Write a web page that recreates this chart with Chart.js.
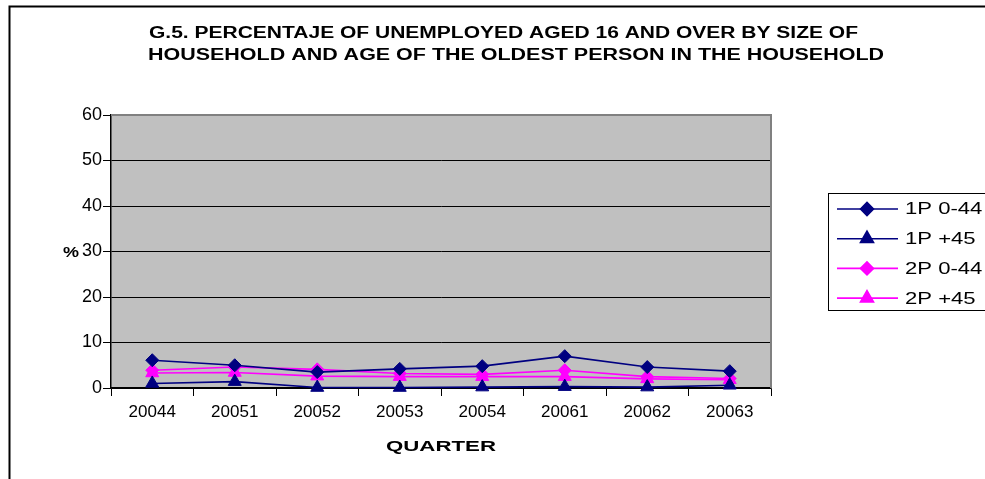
<!DOCTYPE html>
<html>
<head>
<meta charset="utf-8">
<script src="https://cdn.jsdelivr.net/npm/chart.js@4.4.1/dist/chart.umd.min.js"></script>
<style>
	html, body { margin: 0; padding: 0; background: #fff; }
	#wrap { width: 985px; height: 479px; position: relative; }
</style>
</head>
<body>
<div id="wrap"><canvas id="chart"></canvas></div>
<script>
	'use strict';

	const quarters = ['20044', '20051', '20052', '20053', '20054', '20061', '20062', '20063'];
	const p1Young = [6.1, 5.0, 3.5, 4.2, 4.8, 7.0, 4.6, 3.7];
	const p1Old = [1.0, 1.4, 0.1, 0.1, 0.2, 0.3, 0.2, 0.6];
	const p2Young = [3.9, 4.6, 4.1, 3.2, 3.0, 3.9, 2.5, 2.1];
	const p2Old = [3.3, 3.4, 2.6, 2.5, 2.5, 2.5, 2.0, 1.8];
	const yTicks = [0, 10, 20, 30, 40, 50, 60];

	const titleLines = [
		'G.5. PERCENTAJE OF UNEMPLOYED AGED 16 AND OVER BY SIZE OF',
		'HOUSEHOLD AND AGE OF THE OLDEST PERSON IN THE HOUSEHOLD',
	];
	const xTitle = 'QUARTER';
	const yTitle = '%';

	const NAVY = '#000080';
	const PINK = '#ff00ff';
	const SANS = '"Liberation Sans", Arial, sans-serif';

	function series(label, data, color, style) {
		return {
			label,
			data,
			borderColor: color,
			backgroundColor: color,
			borderWidth: 1.6,
			pointStyle: style,
			pointRadius: style === 'rectRot' ? 6.5 : 7.5,
			pointBorderWidth: 1,
			tension: 0,
			clip: false,
		};
	}

	// the old chart's lettering is stretched sideways, so fit text to a width
	function textAt(ctx, text, x, y, opts) {
		const w = ctx.measureText(text).width;
		const sx = opts.width ? opts.width / w : (opts.scale || 1);
		ctx.save();
		ctx.translate(x, y);
		ctx.scale(sx, 1);
		ctx.fillText(text, 0, 0);
		ctx.restore();
	}

	const decor = {
		id: 'decor',
		beforeDraw(chart) {
			const { ctx, chartArea: a } = chart;
			ctx.save();
			ctx.fillStyle = '#c0c0c0';
			ctx.fillRect(a.left, a.top, a.right - a.left, a.bottom - a.top);
			ctx.restore();
		},
		beforeDatasetsDraw(chart) {
			const { ctx, chartArea: a } = chart;
			ctx.save();
			ctx.strokeStyle = '#808080';
			ctx.lineWidth = 2;
			ctx.beginPath();
			ctx.moveTo(a.left, a.top);
			ctx.lineTo(a.right, a.top);
			ctx.lineTo(a.right, a.bottom);
			ctx.stroke();
			ctx.restore();
		},
		afterDraw(chart) {
			const { ctx, chartArea: a } = chart;
			ctx.save();
			// outer frame, only left and top edges show
			ctx.strokeStyle = '#000';
			ctx.lineWidth = 2;
			ctx.beginPath();
			ctx.moveTo(9.5, 479);
			ctx.lineTo(9.5, 6.5);
			ctx.lineTo(985, 6.5);
			ctx.stroke();

			ctx.fillStyle = '#000';
			ctx.textAlign = 'center';
			ctx.textBaseline = 'middle';
			ctx.font = 'bold 16px ' + SANS;
			textAt(ctx, titleLines[0], 503.5, 34, { width: 709 });
			textAt(ctx, titleLines[1], 516, 56, { width: 736 });

			ctx.font = 'bold 15px ' + SANS;
			textAt(ctx, xTitle, (a.left + a.right) / 2, 447, { width: 110 });
			textAt(ctx, yTitle, 71, 253, { scale: 1.2 });

			// legend box
			ctx.strokeStyle = '#000';
			ctx.lineWidth = 1;
			ctx.strokeRect(828.5, 193.5, 170, 117);
			ctx.font = '16px ' + SANS;
			ctx.textAlign = 'left';
			const draw = Chart.helpers && Chart.helpers.drawPoint;
			chart.data.datasets.forEach((ds, i) => {
				const y = 209 + i * 29.7;
				ctx.strokeStyle = ds.borderColor;
				ctx.lineWidth = 1.6;
				ctx.beginPath();
				ctx.moveTo(837, y);
				ctx.lineTo(898, y);
				ctx.stroke();
				ctx.fillStyle = ds.backgroundColor;
				if (draw) {
					draw(ctx, { pointStyle: ds.pointStyle, radius: ds.pointRadius, borderWidth: 1, rotation: 0 }, 867, y);
					ctx.fill();
				}
				ctx.fillStyle = '#000';
				textAt(ctx, ds.label, 905, y + 1, { scale: 1.38 });
			});
			ctx.restore();
		},
	};

	new Chart(document.getElementById('chart'), {
		type: 'line',
		data: {
			labels: quarters,
			datasets: [
				series('1P 0-44', p1Young, NAVY, 'rectRot'),
				series('1P +45', p1Old, NAVY, 'triangle'),
				series('2P 0-44', p2Young, PINK, 'rectRot'),
				series('2P +45', p2Old, PINK, 'triangle'),
			],
		},
		options: {
			responsive: true,
			maintainAspectRatio: false,
			animation: false,
			layout: { padding: { left: 0, right: 214, top: 115, bottom: 0 } },
			plugins: {
				legend: { display: false },
				title: { display: false },
				tooltip: { enabled: false },
			},
			scales: {
				x: {
					offset: true,
					grid: { offset: true, drawOnChartArea: false, drawTicks: true, tickLength: 8, tickColor: '#000' },
					border: { color: '#000', width: 1.5 },
					ticks: { color: '#000', padding: 6, font: { family: SANS, size: 17 }, maxRotation: 0, autoSkip: false },
					afterFit(s) { s.height = 91; },
				},
				y: {
					min: 0,
					max: 60,
					afterBuildTicks(s) { s.ticks = yTicks.map((v) => ({ value: v })); },
					grid: { color: '#000', lineWidth: 1, tickLength: 8, tickColor: '#000' },
					border: { color: '#000', width: 1.5 },
					ticks: { color: '#000', padding: 1, font: { family: SANS, size: 18 } },
					afterFit(s) { s.width = 111; },
				},
			},
		},
		plugins: [decor],
	});
</script>
</body>
</html>
